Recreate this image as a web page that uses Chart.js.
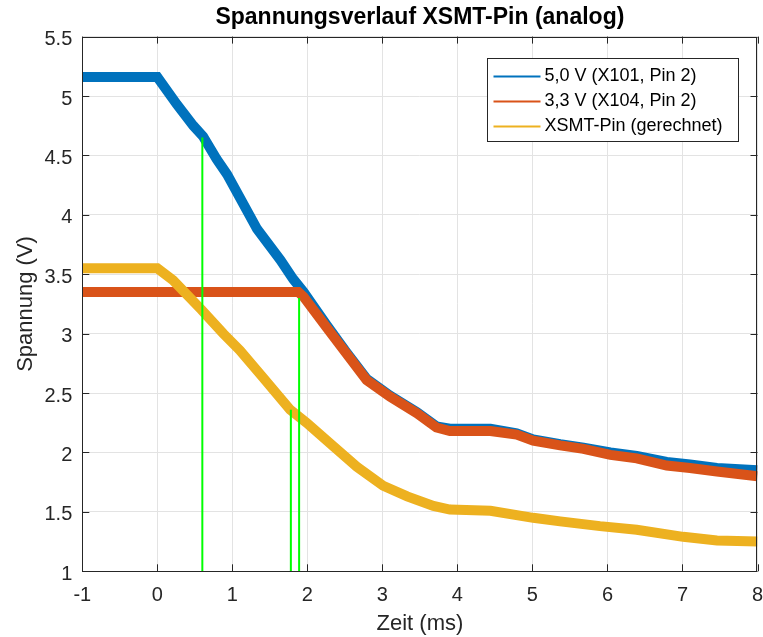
<!DOCTYPE html>
<html>
<head>
<meta charset="utf-8">
<title>Spannungsverlauf XSMT-Pin</title>
<script src="https://cdn.jsdelivr.net/npm/chart.js@4.4.1/dist/chart.umd.min.js"></script>
<style>
  html, body { margin: 0; padding: 0; background: #fff; }
</style>
</head>
<body>
<canvas id="spannung" width="763" height="637"></canvas>
<script>
const FONT = "'Liberation Sans', Arial, Helvetica, sans-serif";

// axis ticks
const xTicks = [-1, 0, 1, 2, 3, 4, 5, 6, 7, 8];
const yTicks = [1, 1.5, 2, 2.5, 3, 3.5, 4, 4.5, 5, 5.5];

// 5,0 V rail (X101, Pin 2) - time in ms, voltage in V
const t5V = [-1, 0, 0.26, 0.48, 0.61, 0.79, 0.93, 1.33, 1.64, 1.81, 1.95, 2.26, 2.5, 2.79, 3.1, 3.46, 3.72, 3.9, 4.44, 4.79, 5.01, 5.37, 5.68, 6.04, 6.39, 6.79, 7.1, 7.46, 8];
const u5V = [5.16, 5.16, 4.93, 4.75, 4.66, 4.47, 4.34, 3.88, 3.62, 3.46, 3.35, 3.07, 2.86, 2.62, 2.48, 2.34, 2.22, 2.2, 2.2, 2.16, 2.11, 2.07, 2.04, 2.0, 1.97, 1.92, 1.9, 1.87, 1.85];

// 3,3 V rail (X104, Pin 2)
const t33V = [-1, 1.88, 1.95, 2.26, 2.5, 2.79, 3.1, 3.46, 3.72, 3.9, 4.44, 4.79, 5.01, 5.37, 5.68, 6.04, 6.39, 6.79, 7.1, 7.46, 8];
const u33V = [3.35, 3.35, 3.31, 3.05, 2.85, 2.61, 2.47, 2.33, 2.21, 2.18, 2.18, 2.15, 2.1, 2.06, 2.03, 1.98, 1.95, 1.89, 1.87, 1.84, 1.8];

// XSMT pin, calculated
const tXsmt = [-1, 0, 0.21, 0.59, 0.88, 1.1, 1.41, 1.77, 1.99, 2.35, 2.66, 3.01, 3.33, 3.68, 3.9, 4.44, 5.01, 5.37, 5.9, 6.39, 7.01, 7.46, 8];
const uXsmt = [3.55, 3.55, 3.45, 3.2, 3.0, 2.86, 2.63, 2.36, 2.25, 2.05, 1.88, 1.72, 1.63, 1.55, 1.52, 1.51, 1.45, 1.42, 1.38, 1.35, 1.29, 1.26, 1.25];

// vertical markers (green)
const markerT = [0.6, 1.78, 1.89];
const markerU = [4.65, 2.36, 3.3];

const seriesNames = ['5,0 V (X101, Pin 2)', '3,3 V (X104, Pin 2)', 'XSMT-Pin (gerechnet)'];
const seriesColors = ['#0072bd', '#d95319', '#edb120'];
const markerColor = '#00ff00';

function pts(t, u) {
  return t.map((x, i) => ({ x: x, y: u[i] }));
}

function traceSet(i, t, u, order) {
  return {
    label: seriesNames[i],
    data: pts(t, u),
    borderColor: seriesColors[i],
    backgroundColor: seriesColors[i],
    borderWidth: 10,
    pointRadius: 0,
    tension: 0,
    clip: 0,
    order: order
  };
}

const datasets = [
  traceSet(0, t5V, u5V, 3),
  traceSet(1, t33V, u33V, 2),
  traceSet(2, tXsmt, uXsmt, 1)
];
markerT.forEach((t, i) => {
  datasets.push({
    label: '',
    data: [{ x: t, y: yTicks[0] }, { x: t, y: markerU[i] }],
    borderColor: markerColor,
    borderWidth: 2,
    pointRadius: 0,
    clip: 0,
    order: 0
  });
});

// box around the axes with inward tick marks
const axesBox = {
  id: 'axesBox',
  afterDatasetsDraw(chart) {
    const { ctx, chartArea: a, scales: { x, y } } = chart;
    const len = 7;
    ctx.save();
    ctx.strokeStyle = '#262626';
    ctx.lineWidth = 1;
    ctx.beginPath();
    xTicks.forEach(v => {
      const px = Math.round(x.getPixelForValue(v)) + 0.5;
      ctx.moveTo(px, a.bottom); ctx.lineTo(px, a.bottom - len);
      ctx.moveTo(px, a.top); ctx.lineTo(px, a.top + len);
    });
    yTicks.forEach(v => {
      const py = Math.round(y.getPixelForValue(v)) + 0.5;
      ctx.moveTo(a.left, py); ctx.lineTo(a.left + len, py);
      ctx.moveTo(a.right, py); ctx.lineTo(a.right - len, py);
    });
    ctx.stroke();
    ctx.strokeRect(Math.round(a.left) + 0.5, Math.round(a.top) + 0.5,
                   Math.round(a.width) - 1, Math.round(a.height) - 1);
    ctx.restore();
  }
};

// legend box in the upper right corner of the plot
const boxLegend = {
  id: 'boxLegend',
  afterDraw(chart) {
    const { ctx, chartArea: a } = chart;
    const w = 251, h = 83;
    const x0 = Math.round(a.right - 20 - w) + 0.5;
    const y0 = Math.round(a.top + 21) + 0.5;
    ctx.save();
    ctx.fillStyle = '#fff';
    ctx.fillRect(x0, y0, w, h);
    ctx.strokeStyle = '#262626';
    ctx.lineWidth = 1;
    ctx.strokeRect(x0, y0, w, h);
    ctx.font = '18px ' + FONT;
    ctx.textBaseline = 'middle';
    ctx.fillStyle = '#000';
    seriesNames.forEach((name, i) => {
      const ry = y0 + 18 + i * 25;
      ctx.strokeStyle = seriesColors[i];
      ctx.lineWidth = 2;
      ctx.beginPath();
      ctx.moveTo(x0 + 6, ry);
      ctx.lineTo(x0 + 53, ry);
      ctx.stroke();
      ctx.fillText(name, x0 + 57, ry);
    });
    ctx.restore();
  }
};

new Chart(document.getElementById('spannung'), {
  type: 'line',
  data: { datasets: datasets },
  options: {
    responsive: false,
    animation: false,
    layout: { padding: { left: 0, right: 5.5, top: 0, bottom: 0 } },
    plugins: {
      legend: { display: false },
      tooltip: { enabled: false },
      title: {
        display: true,
        fullSize: false,
        text: 'Spannungsverlauf XSMT-Pin (analog)',
        color: '#000',
        font: { family: FONT, size: 23, weight: 'bold' },
        padding: { top: 4, bottom: 5 }
      }
    },
    scales: {
      x: {
        type: 'linear',
        min: -1,
        max: 8,
        afterBuildTicks: s => { s.ticks = xTicks.map(v => ({ value: v })); },
        afterFit: s => {
          s.height = 65.7;
          s.paddingLeft = 0;
          s.paddingRight = 5.5;
        },
        grid: { color: '#e3e3e3', drawTicks: false },
        border: { display: false },
        ticks: { color: '#262626', padding: 12, maxRotation: 0, font: { family: FONT, size: 20 }, callback: v => String(v) },
        title: {
          display: true,
          text: 'Zeit (ms)',
          color: '#262626',
          font: { family: FONT, size: 22 },
          padding: { top: 0, bottom: 0 }
        }
      },
      y: {
        type: 'linear',
        min: 1,
        max: 5.5,
        afterBuildTicks: s => { s.ticks = yTicks.map(v => ({ value: v })); },
        afterFit: s => { s.width = 82.3; },
        grid: { color: '#e3e3e3', drawTicks: false },
        border: { display: false },
        ticks: { color: '#262626', padding: 10, labelOffset: 3, font: { family: FONT, size: 20 }, callback: v => String(v) },
        title: {
          display: true,
          text: 'Spannung (V)',
          color: '#262626',
          font: { family: FONT, size: 22 },
          padding: { top: 13, bottom: 0 }
        }
      }
    }
  },
  plugins: [axesBox, boxLegend]
});
</script>
</body>
</html>
